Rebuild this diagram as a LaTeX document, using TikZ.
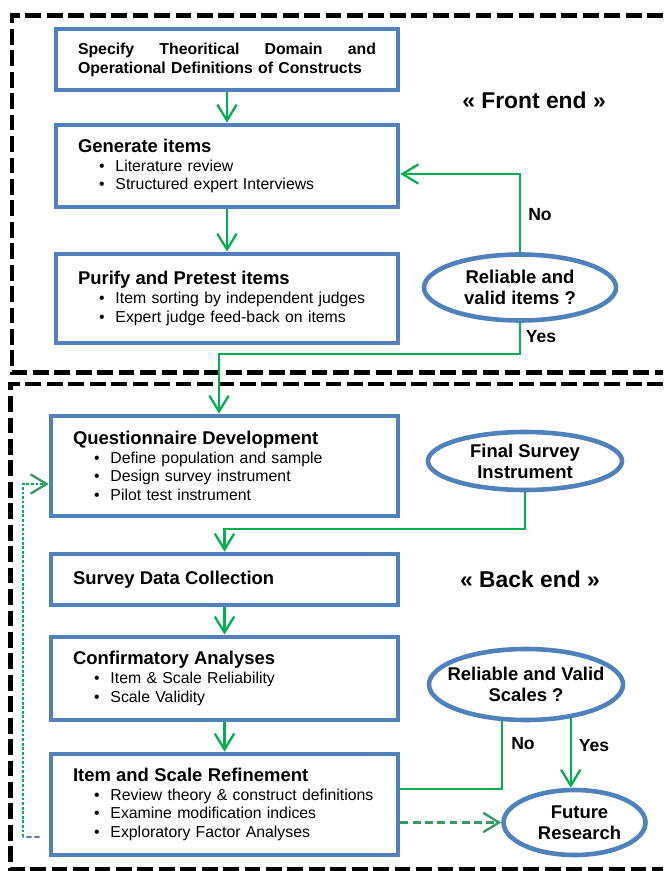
\documentclass[tikz,border=0pt]{standalone}
\usepackage{fontspec}
\setmainfont{Liberation Sans}
\usetikzlibrary{arrows.meta,calc,positioning,shapes.geometric}

\newcommand{\btitle}[1]{{\fontsize{10.5}{12}\selectfont\bfseries #1}}
\newcommand{\bitem}[1]{\hspace*{0.42cm}\makebox[0.33cm][l]{\textbullet}#1}

\begin{document}
\begin{tikzpicture}[font=\fontsize{9}{10.6}\selectfont,
  stage/.style={draw=boxblue, line width=2.7pt, align=left, inner xsep=0.44cm, inner ysep=0pt, text width=#1},
  stage/.default=6.06cm,
  decision/.style={ellipse, draw=boxblue, line width=2.6pt, inner sep=0pt, align=center, font=\fontsize{10.5}{12}\selectfont\bfseries},
  answer/.style={font=\fontsize{10}{12}\selectfont\bfseries, inner sep=0pt},
  flow/.style={draw=flowgreen, line width=1.2pt, -{Straight Barb[length=9pt,width=11pt,line width=1.3pt]}},
  endframe/.style={draw=black, line width=2.8pt, dash pattern=on 9pt off 3.2pt}]
  \definecolor{boxblue}{HTML}{4F81BD}
  \definecolor{flowgreen}{HTML}{00B050}
  \definecolor{dashgreen}{HTML}{339966}
  \draw[fill=white, draw=none] (0,0) rectangle (13.26,-17.42);
  \useasboundingbox (0,0) rectangle (13.26,-17.42);

  % dashed frames, open on the right
  \draw[endframe] (13.26,-0.306) -| (0.24,-7.45) -- (13.26,-7.45);
  \draw[endframe] (13.26,-7.68) -| (0.21,-17.39) -- (13.26,-17.39);
  \node[font=\fontsize{13}{15}\selectfont\bfseries] (frontlbl) at (10.68,-2.0) {« Front end »};
  \node[font=\fontsize{13}{15}\selectfont\bfseries] (backlbl) at (10.60,-11.58) {« Back end »};

  % front end
  \node[stage=5.96cm, minimum height=1.22cm, font=\fontsize{9}{10.8}\selectfont\bfseries] (spec) at (4.54,-1.19)
    {\hbox to 5.96cm{Specify\hfil Theoritical\hfil Domain\hfil and}\\Operational Definitions of Constructs};
  \node[stage=5.96cm, minimum height=1.64cm] (gen) at (4.54,-3.32)
    {\btitle{Generate items}\\\bitem{Literature review}\\\bitem{Structured expert Interviews}};
  \node[stage=5.96cm, minimum height=1.78cm] (pur) at (4.54,-5.97)
    {\btitle{Purify and Pretest items}\\\bitem{Item sorting by independent judges}\\\bitem{Expert judge feed-back on items}};
  \node[decision, minimum width=3.84cm, minimum height=1.32cm] (relitems) at (10.40,-5.75) {Reliable and\\valid items ?};
  \node[answer] (no1) at (10.80,-4.29) {No};
  \node[answer] (yes1) at (10.82,-6.73) {Yes};

  % back end
  \node[stage, minimum height=2.00cm] (quest) at (4.49,-9.32)
    {\btitle{Questionnaire Development}\\\bitem{Define population and sample}\\\bitem{Design survey instrument}\\\bitem{Pilot test instrument}};
  \node[stage, minimum height=1.02cm] (coll) at (4.49,-11.59) {\btitle{Survey Data Collection}};
  \node[stage, minimum height=1.66cm] (conf) at (4.49,-13.57)
    {\btitle{Confirmatory Analyses}\\\bitem{Item \& Scale Reliability}\\\bitem{Scale Validity}};
  \node[stage, minimum height=2.02cm] (ref) at (4.49,-16.09)
    {\btitle{Item and Scale Refinement}\\\bitem{Review theory \& construct definitions}\\\bitem{Examine modification indices}\\\bitem{Exploratory Factor Analyses}};
  \node[decision, minimum width=3.88cm, minimum height=1.16cm] (final) at (10.50,-9.22) {Final Survey\\Instrument};
  \node[decision, minimum width=3.88cm, minimum height=1.42cm, inner xsep=-0.5cm] (scales) at (10.52,-13.69) {Reliable and Valid\\Scales ?};
  \node[decision, minimum width=2.84cm, minimum height=1.30cm] (future) at (11.49,-16.45) {\hspace*{0.2cm}Future\\\hspace*{0.2cm}Research};
  \node[answer] (no2) at (10.46,-14.87) {No};
  \node[answer] (yes2) at (11.88,-14.91) {Yes};

  \draw[flow] (spec) -- (gen);
  \draw[flow] (gen) -- (pur);
  \draw[flow] (relitems.north) |- ([yshift=-0.16cm]gen.east);
  \draw[flow] (relitems.south) |- ($(quest.north)+(-0.11,1.2)$) -- ([xshift=-0.11cm]quest.north);
  \draw[flow] (final.south) |- ($(coll.north)+(0,0.46)$) -- (coll.north);
  \draw[flow] (coll) -- (conf);
  \draw[flow] (conf) -- (ref);
  \draw[flowgreen, line width=1.2pt] (scales.237) |- ([yshift=0.31cm]ref.east);
  \draw[flow] (scales.323) -- (scales.323 |- future.north);
  \draw[flow, draw=dashgreen, line width=1.3pt, dash pattern=on 4.5pt off 2.5pt] ([yshift=-0.36cm]ref.east) -- (future.west);

  % feedback loop
  \coordinate (fbturn) at (0.46,-16.74);
  \draw[boxblue, line width=0.9pt, dash pattern=on 3pt off 1.5pt] ([xshift=-0.18cm,yshift=-0.65cm]ref.west) -- (fbturn);
  \draw[flow, draw=flowgreen, line width=0.8pt, dash pattern=on 1.6pt off 1pt,
        -{Straight Barb[length=9pt,width=11pt,line width=1.3pt,color=dashgreen]}] (fbturn) |- ([yshift=-0.36cm]quest.west);
\end{tikzpicture}
\end{document}
